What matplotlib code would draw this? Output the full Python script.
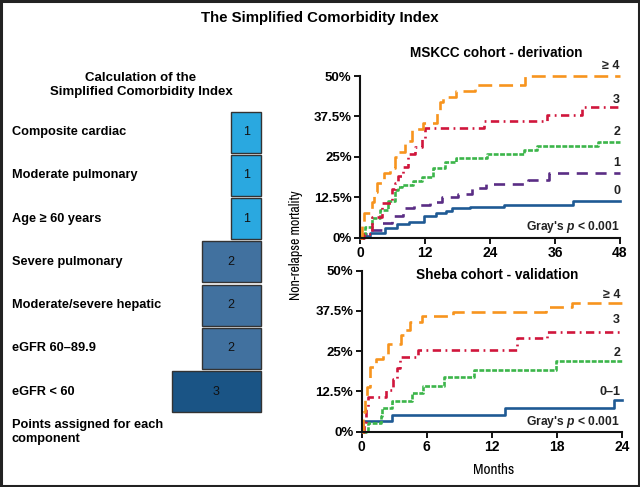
import matplotlib
matplotlib.use("Agg")
import matplotlib.pyplot as plt
from matplotlib import font_manager as fm
from matplotlib.patches import Rectangle
from matplotlib.ticker import FuncFormatter, FixedLocator

# ---------------- data ----------------
components = ["Composite cardiac", "Moderate pulmonary", "Age \u2265 60 years",
              "Severe pulmonary", "Moderate/severe hepatic", "eGFR 60\u201389.9",
              "eGFR < 60"]
points = [1, 1, 1, 2, 2, 2, 3]

# MSKCC cohort (months, cumulative incidence)
msk_ge4_t = [0, 0.3, 0.8, 2.2, 2.6, 3.2, 4.4, 5.5, 6.5, 7.0, 8.3, 9.6, 11.6, 14.2, 14.8, 15.3, 17.8, 21.3, 30.5, 48]
msk_ge4_v = [0, 0.035, 0.075, 0.11, 0.14, 0.17, 0.20, 0.215, 0.25, 0.265, 0.30, 0.335, 0.355, 0.39, 0.42, 0.435, 0.455, 0.473, 0.50, 0.50]
msk_3_t = [0, 0.8, 2.3, 4.1, 5.9, 6.5, 7.0, 7.9, 8.8, 10.1, 11.4, 12.0, 22.8, 34.5, 40.9, 48]
msk_3_v = [0, 0.012, 0.065, 0.107, 0.15, 0.17, 0.19, 0.22, 0.26, 0.28, 0.305, 0.34, 0.36, 0.38, 0.405, 0.405]
msk_2_t = [0, 0.3, 1.0, 2.2, 3.7, 5.2, 6.5, 7.0, 7.8, 9.8, 11.4, 13.4, 15.6, 17.8, 23.4, 30.3, 32.6, 44.0, 48]
msk_2_v = [0, 0.01, 0.034, 0.061, 0.086, 0.112, 0.148, 0.158, 0.163, 0.174, 0.188, 0.216, 0.235, 0.245, 0.258, 0.27, 0.284, 0.297, 0.297]
msk_1_t = [0, 0.5, 1.8, 4.0, 5.9, 7.9, 10.0, 13.0, 15.2, 18.0, 20.6, 23.2, 31.0, 34.8, 48]
msk_1_v = [0, 0.01, 0.024, 0.045, 0.067, 0.092, 0.101, 0.11, 0.127, 0.135, 0.153, 0.167, 0.179, 0.2, 0.2]
msk_0_t = [0, 0.5, 1.8, 4.6, 6.8, 9.1, 11.8, 14.0, 15.8, 16.9, 20.3, 26.5, 39.4, 48]
msk_0_v = [0, 0.005, 0.015, 0.03, 0.042, 0.05, 0.068, 0.075, 0.082, 0.091, 0.096, 0.102, 0.113, 0.113]

# Sheba cohort
sh_ge4_t = [0, 0.15, 0.3, 0.5, 0.8, 1.3, 2.0, 2.4, 3.6, 3.9, 4.5, 5.6, 8.4, 17.0, 19.4, 24]
sh_ge4_v = [0, 0.06, 0.10, 0.14, 0.20, 0.225, 0.24, 0.272, 0.30, 0.315, 0.34, 0.36, 0.373, 0.388, 0.40, 0.40]
sh_3_t = [0, 0.2, 0.4, 0.6, 2.2, 2.9, 3.3, 3.5, 5.2, 14.3, 17.1, 24]
sh_3_v = [0, 0.03, 0.07, 0.108, 0.13, 0.165, 0.197, 0.232, 0.255, 0.29, 0.31, 0.31]
sh_2_t = [0, 0.6, 1.8, 1.9, 2.8, 4.6, 5.7, 7.6, 10.4, 17.9, 24]
sh_2_v = [0, 0.026, 0.05, 0.072, 0.095, 0.119, 0.143, 0.169, 0.19, 0.22, 0.22]
sh_01_t = [0, 0.15, 2.8, 13.2, 23.3, 24]
sh_01_v = [0, 0.034, 0.051, 0.072, 0.098, 0.098]

y_ticks = [0, 0.125, 0.25, 0.375, 0.5]
msk_xticks = [0, 12, 24, 36, 48]
sh_xticks = [0, 6, 12, 18, 24]

# ---------------- style ----------------
plt.rcParams['font.family'] = ['Liberation Sans', 'DejaVu Sans']
plt.rcParams['mathtext.fontset'] = 'custom'
plt.rcParams['mathtext.it'] = 'Liberation Sans:italic:bold'
plt.rcParams['mathtext.rm'] = 'Liberation Sans:bold'
plt.rcParams['lines.scale_dashes'] = False


def find_narrow():
    good = []
    for f in fm.fontManager.ttflist:
        nm = f.name.lower()
        st = str(f.stretch).lower()
        if f.style != 'normal':
            continue
        if f.weight not in (400, 'normal', 'regular', 'book'):
            continue
        if 'mono' in nm or 'serif' in nm or 'cjk' in nm:
            continue
        if 'narrow' in nm or 'condensed' in nm or 'condensed' in st or 'cond' in f.fname.lower():
            good.append(f)
    if good:
        good.sort(key=lambda f: (0 if 'liberation' in f.name.lower() else 1, f.name))
        return fm.FontProperties(fname=good[0].fname), True
    return fm.FontProperties(family='Liberation Sans'), False


narrow_fp, has_narrow = find_narrow()

c_light = '#2AA8E0'
c_mid = '#41719F'
c_dark = '#1A5485'
pt_colors = {1: c_light, 2: c_mid, 3: c_dark}

col_ge4 = '#F7941E'
col_3 = '#D0163C'
col_2 = '#3CB54A'
col_1 = '#5A2D85'
col_0 = '#1F5A94'

W, H = 640, 487
fig = plt.figure(figsize=(W / 100, H / 100), dpi=100)


def fx(px):
    return px / W


def fy(py):
    return 1 - py / H


# border
fig.patches.append(Rectangle((0.0015, 0.002), 0.997, 0.996, transform=fig.transFigure,
                             fill=False, edgecolor='#222222', linewidth=2.2))

fig.text(fx(320), fy(18), "The Simplified Comorbidity Index", ha='center', va='center',
         fontsize=10.8, fontweight='bold')

# ---------------- left panel ----------------
pitch = 43.25
top_px = 132.2 - pitch / 2
bot_px = 391.7 + pitch / 2
box_right = 261
unit = 29.7
axL = fig.add_axes([0, fy(bot_px), fx(box_right), (bot_px - top_px) / H])
rows = list(range(len(components)))
bars = axL.barh(rows, [-p for p in points], left=0, height=0.95,
                color=[pt_colors[p] for p in points], edgecolor='#333333', linewidth=1.0)
for b in bars:
    b.set_clip_on(False)
axL.set_xlim(-box_right / unit, 0)
axL.set_ylim(len(components) - 0.5, -0.5)
axL.axis('off')
for r, name in enumerate(components):
    axL.text(12 / box_right, r, name, transform=axL.get_yaxis_transform(),
             ha='left', va='center', fontsize=9.2, fontweight='bold')
axL.bar_label(bars, labels=[str(p) for p in points], label_type='center', fontsize=9,
              color='#111111')

fig.text(fx(141), fy(85), "Calculation of the\nSimplified Comorbidity Index", ha='center',
         va='center', fontsize=9.5, fontweight='bold', linespacing=1.25)
fig.text(fx(12), fy(419), "Points assigned for each\ncomponent", ha='left', va='top',
         fontsize=9.2, fontweight='bold', linespacing=1.2)


# ---------------- right panels ----------------
def style_ax(ax, xmax, xticks):
    ax.set_xlim(0, xmax)
    ax.set_ylim(0, 0.5)
    for s in ['top', 'right']:
        ax.spines[s].set_visible(False)
    for s in ['left', 'bottom']:
        ax.spines[s].set_linewidth(1.5)
        ax.spines[s].set_color('#111111')
    ax.yaxis.set_major_locator(FixedLocator(y_ticks))
    ax.yaxis.set_major_formatter(FuncFormatter(lambda v, p: ('%g' % (v * 100)) + '%'))
    ax.set_xticks(xticks)
    ax.tick_params(axis='y', direction='out', length=4, width=1.3, labelsize=9.5, pad=2)
    ax.tick_params(axis='x', direction='out', length=4, width=1.3, labelsize=10, pad=2)
    for lab in ax.get_yticklabels() + ax.get_xticklabels():
        lab.set_fontweight('bold')
    ax.set_facecolor('none')


lw = 1.9
ls_ge4 = (0, (10, 5))
ls_3 = (0, (6, 3.2, 1.3, 3.2))
ls_2 = (0, (3.5, 1.1))
ls_1 = (0, (8, 5.5))

axT = fig.add_axes([fx(360), fy(237.7), 260 / W, (237.7 - 76) / H])
style_ax(axT, 48, msk_xticks)
axT.step(msk_0_t, msk_0_v, where='post', color=col_0, lw=lw, clip_on=False)
axT.step(msk_1_t, msk_1_v, where='post', color=col_1, lw=lw, ls=ls_1, clip_on=False)
axT.step(msk_2_t, msk_2_v, where='post', color=col_2, lw=lw, ls=ls_2, clip_on=False)
axT.step(msk_3_t, msk_3_v, where='post', color=col_3, lw=lw, ls=ls_3, clip_on=False)
axT.step(msk_ge4_t, msk_ge4_v, where='post', color=col_ge4, lw=lw, ls=ls_ge4, clip_on=False)
for txt, yv in [("\u2265 4", 0.53), ("3", 0.427), ("2", 0.328), ("1", 0.23), ("0", 0.143)]:
    axT.text(48, yv, txt, ha='right', va='center', fontsize=9, fontweight='bold',
             color='#222222', clip_on=False)
axT.text(48, 0.034, r"Gray's $p$ < 0.001", ha='right', va='center', fontsize=8.7,
         fontweight='bold', color='#222222')

axB = fig.add_axes([fx(361.7), fy(431.6), 260 / W, (431.6 - 270.7) / H])
style_ax(axB, 24, sh_xticks)
axB.step(sh_01_t, sh_01_v, where='post', color=col_0, lw=lw, clip_on=False)
axB.step(sh_2_t, sh_2_v, where='post', color=col_2, lw=lw, ls=ls_2, clip_on=False)
axB.step(sh_3_t, sh_3_v, where='post', color=col_3, lw=lw, ls=ls_3, clip_on=False)
axB.step(sh_ge4_t, sh_ge4_v, where='post', color=col_ge4, lw=lw, ls=ls_ge4, clip_on=False)
for txt, yv in [("\u2265 4", 0.424), ("3", 0.347), ("2", 0.243), ("0\u20131", 0.124)]:
    axB.text(23.85, yv, txt, ha='right', va='center', fontsize=9, fontweight='bold',
             color='#222222', clip_on=False)
axB.text(23.85, 0.03, r"Gray's $p$ < 0.001", ha='right', va='center', fontsize=8.7,
         fontweight='bold', color='#222222')

fig.text(fx(496), fy(53), "MSKCC cohort - derivation", ha='center', va='center',
         fontsize=9.8, fontweight='bold')
fig.text(fx(497), fy(275), "Sheba cohort - validation", ha='center', va='center',
         fontsize=9.8, fontweight='bold')

lab_size = 10 if has_narrow else 8.6
fig.text(fx(296), fy(245), "Non-relapse mortality", ha='center', va='center', rotation=90,
         fontproperties=narrow_fp, fontsize=lab_size)
fig.text(fx(494), fy(470), "Months", ha='center', va='center',
         fontproperties=narrow_fp, fontsize=lab_size + 1)

fig.savefig("out.png", dpi=100)
